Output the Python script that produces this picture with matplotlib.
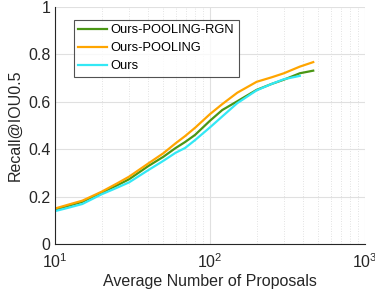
import numpy as np
import matplotlib
matplotlib.use("Agg")
import matplotlib.pyplot as plt

plt.rcParams["font.family"] = ["Liberation Sans", "DejaVu Sans"]

# values
x_pool = [10, 12, 15, 20, 25, 30, 40, 50, 60, 69, 80, 100, 120, 150, 200, 250, 300, 380, 464]
y_pool = [0.150, 0.165, 0.183, 0.221, 0.255, 0.284, 0.340, 0.383, 0.425, 0.455, 0.490, 0.548, 0.590, 0.638, 0.684, 0.703, 0.720, 0.748, 0.767]

x_rgn = [10, 12, 15, 20, 25, 30, 40, 50, 60, 69, 80, 100, 120, 150, 200, 250, 300, 380, 464]
y_rgn = [0.145, 0.160, 0.178, 0.217, 0.247, 0.273, 0.329, 0.368, 0.405, 0.430, 0.460, 0.520, 0.565, 0.602, 0.650, 0.675, 0.693, 0.720, 0.731]

x_ours = [10, 12, 15, 20, 25, 30, 40, 50, 60, 69, 80, 100, 120, 150, 200, 250, 300, 380]
y_ours = [0.139, 0.152, 0.169, 0.210, 0.237, 0.260, 0.312, 0.351, 0.385, 0.405, 0.438, 0.492, 0.538, 0.594, 0.648, 0.675, 0.695, 0.709]

labels = ["Ours-POOLING-RGN", "Ours-POOLING", "Ours"]
colors = ["#4a9614", "#ffa500", "#33e8f5"]

fig = plt.figure(figsize=(3.75, 2.98), dpi=100)
ax = fig.add_axes([0.147, 0.181, 0.826, 0.796])
for xs, ys, lab, c in [(x_rgn, y_rgn, labels[0], colors[0]),
                       (x_pool, y_pool, labels[1], colors[1]),
                       (x_ours, y_ours, labels[2], colors[2])]:
    ax.plot(xs, ys, color=c, lw=1.6, label=lab)

ax.set_xscale("log")
ax.set_xlim(10, 1000)
ax.set_ylim(0, 1)
ax.set_yticks([0, 0.2, 0.4, 0.6, 0.8, 1])
ax.set_yticklabels(["0", "0.2", "0.4", "0.6", "0.8", "1"])
ax.grid(True, which="major", color="0.88", lw=0.8)
ax.grid(True, which="minor", color="0.85", lw=0.6, ls=(0, (1, 2)))
ax.tick_params(which="both", direction="in", labelsize=11.5, colors="0.15", length=0)
ax.tick_params(axis="x", pad=6)
for s in ["top", "right"]:
    ax.spines[s].set_visible(False)
for s in ["left", "bottom"]:
    ax.spines[s].set_color("0.15")
    ax.spines[s].set_linewidth(0.8)
ax.set_xlabel("Average Number of Proposals", fontsize=11.5, color="0.15", labelpad=2)
ax.set_ylabel("Recall@IOU0.5", fontsize=11.5, color="0.15", labelpad=4)
leg = ax.legend(loc="upper left", bbox_to_anchor=(0.06, 0.945), fontsize=9.3,
                frameon=True, fancybox=False, edgecolor="0.15", handlelength=2.2,
                handletextpad=0.3, borderpad=0.35, labelspacing=0.45, borderaxespad=0)
leg.get_frame().set_linewidth(0.8)

fig.savefig("out.png", dpi=100)
